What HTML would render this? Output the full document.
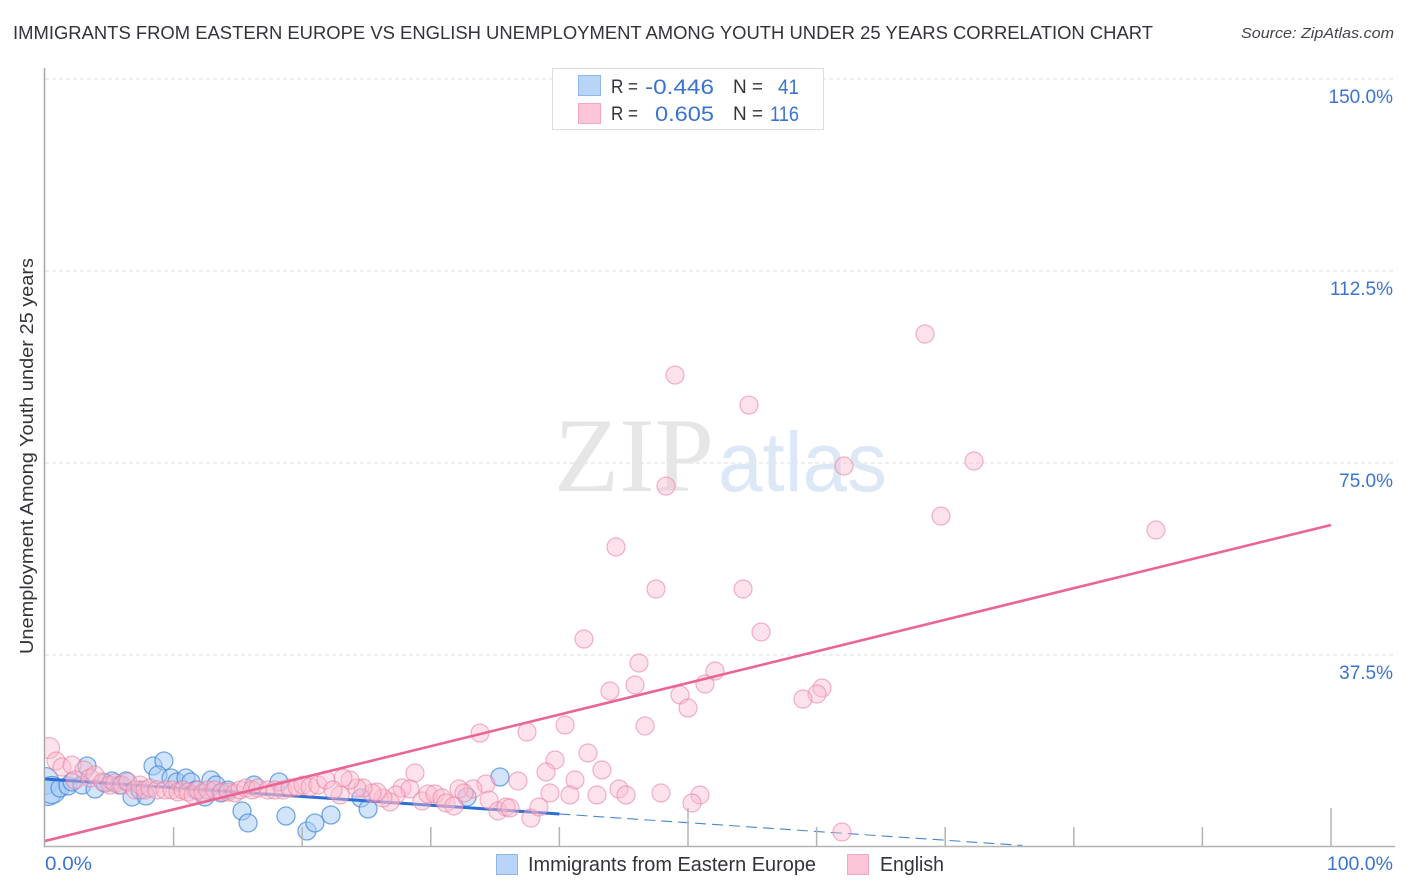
<!DOCTYPE html>
<html lang="en">
<head>
<meta charset="utf-8">
<title>Immigrants from Eastern Europe vs English Unemployment Correlation Chart</title>
<style>
  html, body { margin: 0; padding: 0; background: #fff; }
  svg { display: block; font-family: "Liberation Sans", Arial, sans-serif; }
</style>
</head>
<body>
<svg id="chart" width="1406" height="892" viewBox="0 0 1406 892" xmlns="http://www.w3.org/2000/svg">
  <defs>
    <clipPath id="plot-clip"><rect x="45" y="60" width="1350" height="787"/></clipPath>
  </defs>
  <rect x="0" y="0" width="1406" height="892" fill="#ffffff"/>
  <text x="13" y="39" font-size="18.5" fill="#333339" textLength="1140" lengthAdjust="spacingAndGlyphs">IMMIGRANTS FROM EASTERN EUROPE VS ENGLISH UNEMPLOYMENT AMONG YOUTH UNDER 25 YEARS CORRELATION CHART</text>
  <text x="1241" y="38" font-size="15" font-style="italic" fill="#44444a" textLength="153" lengthAdjust="spacingAndGlyphs">Source: ZipAtlas.com</text>

  <g id="grid"></g>

  <g>
    <text x="554" y="491" font-size="106" font-family="'Liberation Serif', serif" fill="#e6e6e6" textLength="160" lengthAdjust="spacingAndGlyphs">ZIP</text>
    <text x="718" y="491" font-size="84" font-family="'Liberation Sans', sans-serif" fill="#dde8f7" textLength="169" lengthAdjust="spacingAndGlyphs">atlas</text>
  </g>

  <g id="blue-series" clip-path="url(#plot-clip)"></g>
  <g id="pink-series" clip-path="url(#plot-clip)"></g>
  <g id="axes"></g>

  <text transform="translate(33 456) rotate(-90)" font-size="18.5" fill="#333339" text-anchor="middle" textLength="396" lengthAdjust="spacingAndGlyphs">Unemployment Among Youth under 25 years</text>
  <g id="tick-labels"></g>

  <g>
    <rect x="552.5" y="68.5" width="271" height="61" fill="#ffffff" stroke="#dcdcdc"/>
    <rect x="578.5" y="75.5" width="22" height="20" fill="#b8d4f7" stroke="#8fb8ea"/>
    <rect x="578.5" y="103.5" width="22" height="20" fill="#fcc6d8" stroke="#f3a8c0"/>
    <g font-size="19" fill="#333339">
      <text x="611" y="93" textLength="27" lengthAdjust="spacingAndGlyphs">R =</text>
      <text x="611" y="120" textLength="27" lengthAdjust="spacingAndGlyphs">R =</text>
      <text x="733" y="93" textLength="30" lengthAdjust="spacingAndGlyphs">N =</text>
      <text x="733" y="120" textLength="30" lengthAdjust="spacingAndGlyphs">N =</text>
    </g>
    <g font-size="21" fill="#3a74d0">
      <text x="645" y="94" textLength="69" lengthAdjust="spacingAndGlyphs">-0.446</text>
      <text x="655" y="121" textLength="59" lengthAdjust="spacingAndGlyphs">0.605</text>
      <text x="778" y="94" textLength="21" lengthAdjust="spacingAndGlyphs">41</text>
      <text x="770" y="121" textLength="29" lengthAdjust="spacingAndGlyphs">116</text>
    </g>
  </g>

  <g>
    <rect x="496.5" y="854.5" width="21" height="20" fill="#b8d4f7" stroke="#8fb8ea"/>
    <text x="528" y="871" font-size="20" fill="#333339" textLength="288" lengthAdjust="spacingAndGlyphs">Immigrants from Eastern Europe</text>
    <rect x="847.5" y="854.5" width="21" height="20" fill="#fcc6d8" stroke="#f3a8c0"/>
    <text x="880" y="871" font-size="20" fill="#333339" textLength="64" lengthAdjust="spacingAndGlyphs">English</text>
  </g>
</svg>

<script>
const yTicks = [37.5, 75, 112.5, 150];
const yTickLabels = ["37.5%", "75.0%", "112.5%", "150.0%"];
const xTicks = [10, 20, 30, 40, 50, 60, 70, 80, 90, 100];
const xMajorTicks = [50, 100];
const xEdgeLabels = ["0.0%", "100.0%"];

const immigrantsX = [0,0.23,0.54,1.17,1.79,2.1,2.88,3.27,3.89,4.67,5.21,5.83,6.3,6.77,7.39,7.85,8.4,9.25,8.79,9.8,10.26,10.96,11.35,11.74,12.44,12.91,13.3,13.69,14.23,15.32,15.79,16.25,18.2,18.74,20.37,20.99,22.24,24.57,25.12,32.82,35.38];
const immigrantsY = [12.89,10.74,11.13,11.52,11.91,12.7,12.1,15.82,11.33,12.5,12.89,12.1,12.89,9.77,11.13,9.96,15.82,16.8,14.06,13.48,12.7,13.48,12.7,11.13,9.77,13.09,12.1,10.55,11.13,7.03,4.69,12.1,12.7,6.05,3.12,4.69,6.25,9.57,7.42,9.77,13.67];

const englishX = [68.43,48.99,54.74,62.13,72.24,48.29,69.67,86.39,44.4,47.51,54.28,55.68,41.91,46.19,52.1,45.88,51.32,43.93,49.38,60.42,60.03,58.94,50,46.66,40.44,33.83,37.48,42.22,39.66,38.96,43.31,41.21,36.78,28.77,39.27,40.82,42.92,44.63,45.18,47.9,50.93,50.31,61.97,34.29,33.28,32.19,32.58,27.76,28.38,27.29,26.83,26.28,25.82,25.43,24.73,24.26,23.72,23.17,22.94,29.32,29.78,30.33,30.87,31.18,31.8,34.53,35.23,35.85,36.16,37.79,38.41,0.31,0.86,1.32,2.1,3.03,2.33,3.5,3.89,4.51,5.05,5.44,5.99,6.45,7,7.39,7.78,8.16,8.71,9.33,9.88,10.34,10.73,11.12,11.51,11.9,12.29,12.67,13.22,13.76,14.23,14.77,15.16,15.63,16.1,16.56,17.34,17.88,18.51,19.05,19.6,20.06,20.61,21.23,21.85,22.4];
const englishY = [100.19,92.18,86.32,74.41,75.39,70.5,64.64,61.91,58.59,50.39,50.39,41.99,40.62,35.94,34.37,31.64,31.83,30.47,29.69,31.05,29.88,28.9,27.15,23.63,23.83,22.26,22.46,18.36,16.99,14.65,15.04,13.09,12.89,14.45,10.55,10.16,10.16,11.33,10.16,10.55,10.16,8.59,2.93,12.3,11.33,11.33,10.55,11.52,11.33,10.16,8.79,9.57,10.74,10.55,11.52,11.52,13.09,13.48,10.16,8.98,10.35,10.35,9.57,8.59,8.01,9.18,7.03,7.81,7.62,5.66,7.81,19.33,16.8,15.62,16.01,15.04,13.09,13.48,14.06,12.7,12.1,12.5,12.1,12.7,11.13,12.1,11.13,11.52,11.13,11.13,11.13,10.74,11.13,10.74,10.16,11.13,10.55,11.13,11.13,10.74,10.74,10.55,11.13,11.52,11.13,11.52,11.13,11.13,11.13,11.52,11.72,12.1,11.72,12.1,13.09,11.13];

const immigrantsTrendSolidX = [0, 40];
const immigrantsTrendSolidY = [13.28, 6.45];
const immigrantsTrendDashX = [40, 76];
const immigrantsTrendDashY = [6.45, 0.3];
const englishTrendX = [0, 100];
const englishTrendY = [1.17, 62.9];

const NS = "http://www.w3.org/2000/svg";
const xScale = function (v) { return 45 + v * 12.86; };
const yScale = function (v) { return 847 - v * 5.12; };

function make(tag, parent, attrs) {
  const el = document.createElementNS(NS, tag);
  Object.keys(attrs).forEach(function (k) { el.setAttribute(k, attrs[k]); });
  parent.appendChild(el);
  return el;
}

const grid = document.getElementById("grid");
yTicks.forEach(function (t) {
  const line = make("line", grid, { x1: 45, x2: 1393, y1: yScale(t), y2: yScale(t), stroke: "#dddddd", "stroke-width": 1, "stroke-dasharray": "4 3" });
  
  
});

const axes = document.getElementById("axes");
const yAxis = make("line", axes, { x1: 44.5, x2: 44.5, y1: 68, y2: 847.5, stroke: "#a8a8a8", "stroke-width": 1.5 });


const xAxis = make("line", axes, { x1: 44, x2: 1395, y1: 846.5, y2: 846.5, stroke: "#b4b4b4", "stroke-width": 1.5 });


xTicks.forEach(function (t) {
  const top = xMajorTicks.indexOf(t) >= 0 ? 808 : 827;
  const tick = make("line", axes, { x1: xScale(t), x2: xScale(t), y1: top, y2: 846, stroke: "#b4b4b4", "stroke-width": 1.5 });
  
  
});

const labels = document.getElementById("tick-labels");
yTicks.forEach(function (t, i) {
  const label = make("text", labels, { x: 1393, y: yScale(t) + 24, "font-size": 19, fill: "#3a74d0", "text-anchor": "end" });
  
  
  label.textContent = yTickLabels[i];
});
const xLabelStart = make("text", labels, { x: 45, y: 870, "font-size": 19.5, fill: "#3a74d0", textLength: 47, lengthAdjust: "spacingAndGlyphs" });


xLabelStart.textContent = xEdgeLabels[0];
const xLabelEnd = make("text", labels, { x: 1393, y: 870, "font-size": 19.5, fill: "#3a74d0", "text-anchor": "end" });


xLabelEnd.textContent = xEdgeLabels[1];

const blueGroup = document.getElementById("blue-series");
immigrantsX.forEach(function (v, i) {
  const dot = make("circle", blueGroup, {
    cx: xScale(v), cy: yScale(immigrantsY[i]), r: v < 0.6 ? 13.5 : 9,
    fill: "#a9cbf5", "fill-opacity": 0.52, stroke: "#3f86da", "stroke-opacity": 0.7, "stroke-width": 1.3
  });
  
  
});
const blueTrend = make("line", blueGroup, {
  x1: xScale(immigrantsTrendSolidX[0]), y1: yScale(immigrantsTrendSolidY[0]),
  x2: xScale(immigrantsTrendSolidX[1]), y2: yScale(immigrantsTrendSolidY[1]),
  stroke: "#2a6fd6", "stroke-width": 3
});


const blueDash = make("line", blueGroup, {
  x1: xScale(immigrantsTrendDashX[0]), y1: yScale(immigrantsTrendDashY[0]),
  x2: xScale(immigrantsTrendDashX[1]), y2: yScale(immigrantsTrendDashY[1]),
  stroke: "#4a86d0", "stroke-width": 1.1, "stroke-dasharray": "11 6"
});



const pinkGroup = document.getElementById("pink-series");
englishX.forEach(function (v, i) {
  const dot = make("circle", pinkGroup, {
    cx: xScale(v), cy: yScale(englishY[i]), r: v < 0.6 ? 10.5 : 9,
    fill: "#fdbbd0", "fill-opacity": 0.42, stroke: "#e9809f", "stroke-opacity": 0.6, "stroke-width": 1.2
  });
  
  
});
const pinkTrend = make("line", pinkGroup, {
  x1: xScale(englishTrendX[0]), y1: yScale(englishTrendY[0]),
  x2: xScale(englishTrendX[1]), y2: yScale(englishTrendY[1]),
  stroke: "#ea6593", "stroke-width": 2.6
});


</script>
</body>
</html>
